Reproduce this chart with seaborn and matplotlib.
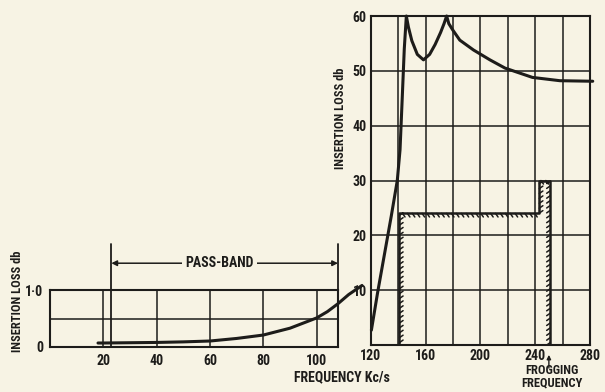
import matplotlib
matplotlib.use("Agg")
import matplotlib.pyplot as plt
import matplotlib.patheffects as pe
from matplotlib import font_manager
import pandas as pd
import seaborn as sns

# ---- data -------------------------------------------------------------
# pass-band insertion loss (left panel)
pb_freq = [18, 20, 30, 40, 50, 60, 70, 80, 90, 100, 104, 108, 112, 117]
pb_loss = [0.07, 0.07, 0.075, 0.08, 0.09, 0.105, 0.15, 0.21, 0.33, 0.51, 0.62, 0.76, 0.92, 1.08]

# stop-band insertion loss (right panel)
sb_freq = [120.5, 125, 130, 135, 139.4, 141.4, 143, 144.5, 146, 147.5, 150, 154, 158.5,
           163, 167, 171, 173.5, 175.4, 177, 180, 185, 195, 207, 218, 238, 258, 282]
sb_loss = [2.7, 9.5, 16.5, 23.5, 30, 35.6, 45, 54, 60, 58, 55.5, 53, 52,
           53, 54.8, 57, 58.6, 60, 58.6, 57.4, 55.6, 53.8, 52, 50.5, 48.8, 48.2, 48.1]

# required-loss template (hatched boundary)
tpl_freq = [141, 141, 243, 243, 251, 251]
tpl_loss = [0, 24, 24, 30, 30, 0]

pass_band = (23, 108)
left_xticks = [20, 40, 60, 80, 100]
left_yticks = [0, 1.0]
left_ytick_labels = ["0", "1·0"]
right_xticks = [120, 160, 200, 240, 280]
right_yticks = [10, 20, 30, 40, 50, 60]
frogging_freq = 250

# ---- style ------------------------------------------------------------
PAPER = "#f7f3e4"
INK = "#1d1c1a"

sns.set_theme(style="white")
available = {f.name for f in font_manager.fontManager.ttflist}
narrow = [n for n in ["Liberation Sans Narrow", "Roboto Condensed", "Open Sans Condensed",
                      "DejaVu Sans"] if n in available]
plt.rcParams["font.family"] = narrow + ["DejaVu Sans"]
plt.rcParams["font.weight"] = "bold"
FS = 10

fig = plt.figure(figsize=(6.05, 3.92), dpi=100, facecolor=PAPER)

# ---- left panel: pass band -------------------------------------------
axL = fig.add_axes([50 / 605, 1 - 347 / 392, 288 / 605, 57 / 392])
axL.set_facecolor(PAPER)
sns.lineplot(x=pb_freq, y=pb_loss, ax=axL, color=INK, lw=2.2, clip_on=False,
             estimator=None, sort=False)
axL.set_xlim(0, 108)
axL.set_ylim(0, 1.0)
for x in left_xticks:
    axL.axvline(x, color=INK, lw=1.1, zorder=1)
axL.axhline(0.5, color=INK, lw=1.1, zorder=1)
axL.set_xticks(left_xticks)
axL.set_xticklabels([str(t) for t in left_xticks], fontsize=FS, fontweight="bold", color=INK)
axL.set_yticks(left_yticks)
axL.set_yticklabels(left_ytick_labels, fontsize=FS, fontweight="bold", color=INK)
axL.tick_params(length=0, pad=5)
for s in axL.spines.values():
    s.set_color(INK)
    s.set_linewidth(1.5)

# pass-band markers and arrow
for x in pass_band:
    axL.plot([x, x], [0, 1.8], color=INK, lw=1.3, clip_on=False)
axL.annotate("", xy=(pass_band[0], 1.47), xytext=(pass_band[1], 1.47),
             arrowprops=dict(arrowstyle="<|-|>", color=INK, lw=1.1,
                             mutation_scale=8, shrinkA=0, shrinkB=0),
             annotation_clip=False)
axL.text(63.5, 1.47, "PASS-BAND", ha="center", va="center", fontsize=FS,
         fontweight="bold", color=INK,
         bbox=dict(boxstyle="square,pad=0.25", fc=PAPER, ec="none"))

# ---- right panel: stop band ------------------------------------------
axR = fig.add_axes([370.7 / 605, 1 - 345 / 392, 219.3 / 605, 329 / 392])
axR.set_facecolor(PAPER)
axR.set_xlim(120, 280)
axR.set_ylim(0, 60)
for x in range(140, 280, 20):
    axR.axvline(x, color=INK, lw=1.1, zorder=1)
for y in range(10, 60, 10):
    axR.axhline(y, color=INK, lw=1.1, zorder=1)

tpl = pd.DataFrame({"freq": tpl_freq, "loss": tpl_loss})
sns.lineplot(data=tpl, x="freq", y="loss", ax=axR, color=INK, lw=1.8,
             estimator=None, sort=False, zorder=3,
             path_effects=[pe.withTickedStroke(angle=-55, spacing=3.5, length=0.9,
                                               linewidth=1.1)])
sns.lineplot(x=sb_freq, y=sb_loss, ax=axR, color=INK, lw=2.2, clip_on=False,
             estimator=None, sort=False, zorder=4)

axR.set_xticks(right_xticks)
axR.set_xticklabels([str(t) for t in right_xticks], fontsize=FS, fontweight="bold", color=INK)
axR.set_yticks(right_yticks)
axR.set_yticklabels([str(t) for t in right_yticks], fontsize=FS, fontweight="bold", color=INK)
axR.tick_params(length=0, pad=3)
for s in axR.spines.values():
    s.set_color(INK)
    s.set_linewidth(1.5)
axR.set_xlabel("")
axR.set_ylabel("")
axL.set_xlabel("")
axL.set_ylabel("")

# frogging-frequency pointer
axR.annotate("", xy=(frogging_freq, -1.8), xytext=(frogging_freq, -4.2),
             arrowprops=dict(arrowstyle="-|>", color=INK, lw=1.0, mutation_scale=6,
                             shrinkA=0, shrinkB=0),
             annotation_clip=False)
fig.text(552 / 605, 1 - 377 / 392, "FROGGING\nFREQUENCY", ha="center", va="center",
         fontsize=FS - 1, fontweight="bold", color=INK, linespacing=0.95)

# ---- shared labels ------------------------------------------------------
fig.text(342 / 605, 1 - 377 / 392, "FREQUENCY Kc/s", ha="center", va="center",
         fontsize=FS, fontweight="bold", color=INK)
fig.text(18 / 605, 1 - 301 / 392, "INSERTION LOSS db", rotation=90, ha="center",
         va="center", fontsize=FS - 1, fontweight="bold", color=INK)
fig.text(341 / 605, 1 - 118 / 392, "INSERTION LOSS db", rotation=90, ha="center",
         va="center", fontsize=FS - 1, fontweight="bold", color=INK)

fig.savefig("out.png", dpi=100, facecolor=PAPER)
